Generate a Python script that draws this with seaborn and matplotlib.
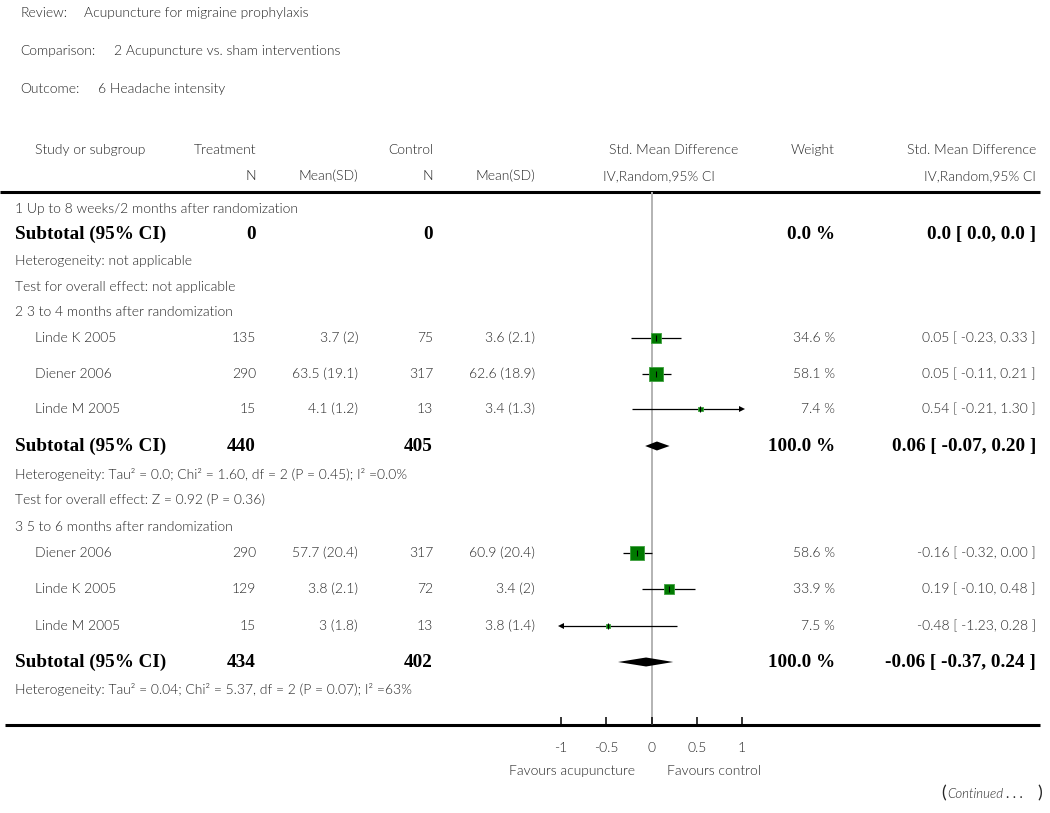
import numpy as np
import pandas as pd
import matplotlib
matplotlib.use("Agg")
import matplotlib.pyplot as plt
import seaborn as sns

# === Data ===
group_titles = ["1 Up to 8 weeks/2 months after randomization",
                "2 3 to 4 months after randomization",
                "3 5 to 6 months after randomization"]

study_names = ["Linde K 2005", "Diener 2006", "Linde M 2005",
               "Diener 2006", "Linde K 2005", "Linde M 2005"]
study_group = [2, 2, 2, 3, 3, 3]
trt_n = [135, 290, 15, 290, 129, 15]
trt_mean_sd = ["3.7 (2)", "63.5 (19.1)", "4.1 (1.2)", "57.7 (20.4)", "3.8 (2.1)", "3 (1.8)"]
ctl_n = [75, 317, 13, 317, 72, 13]
ctl_mean_sd = ["3.6 (2.1)", "62.6 (18.9)", "3.4 (1.3)", "60.9 (20.4)", "3.4 (2)", "3.8 (1.4)"]
weights = [34.6, 58.1, 7.4, 58.6, 33.9, 7.5]
smd = [0.05, 0.05, 0.54, -0.16, 0.19, -0.48]
ci_lo = [-0.23, -0.11, -0.21, -0.32, -0.10, -1.23]
ci_hi = [0.33, 0.21, 1.30, 0.00, 0.48, 0.28]

sub_trt_n = [0, 440, 434]
sub_ctl_n = [0, 405, 402]
sub_weight = [0.0, 100.0, 100.0]
sub_smd = [0.0, 0.06, -0.06]
sub_lo = [0.0, -0.07, -0.37]
sub_hi = [0.0, 0.20, 0.24]
heterogeneity = ["Heterogeneity: not applicable",
                 "Heterogeneity: Tau² = 0.0; Chi² = 1.60, df = 2 (P = 0.45); I² =0.0%",
                 "Heterogeneity: Tau² = 0.04; Chi² = 5.37, df = 2 (P = 0.07); I² =63%"]
overall_test = ["Test for overall effect: not applicable",
                "Test for overall effect: Z = 0.92 (P = 0.36)",
                None]

x_ticks = [-1, -0.5, 0, 0.5, 1]
x_ticklabels = ["-1", "-0.5", "0", "0.5", "1"]

# === Layout (pixel rows) ===
W, H = 1050, 813
group_title_y = [209, 312, 527]
study_y = [338, 374, 409, 553, 589, 626]
sub_y = [234, 446, 662]
het_y = [261, 474, 689]
test_y = [287, 500, None]
top_rule, bottom_rule = 192, 725
px_lo, px_hi = 561, 742

sns.set_style("white")
plt.rcParams['font.family'] = ['Lato', 'DejaVu Sans']
plt.rcParams['axes.unicode_minus'] = False

TXT = '#262626'
FS = 10
BOLD = dict(family='Liberation Serif', fontweight='bold', fontsize=13.8, color='black')
LIGHT = dict(fontsize=FS, color=TXT, fontweight=300)

fig = plt.figure(figsize=(W / 100, H / 100), dpi=100)
bg = fig.add_axes([0, 0, 1, 1])
bg.set_xlim(0, W)
bg.set_ylim(H, 0)
bg.axis('off')

def t(x, y, s, ha='left', **kw):
    style = dict(LIGHT)
    style.update(kw)
    bg.text(x, y, s, ha=ha, va='center', **style)

# header info
t(20, 13, "Review:")
t(84, 13, "Acupuncture for migraine prophylaxis")
t(20, 51, "Comparison:")
t(114, 51, "2 Acupuncture vs. sham interventions")
t(20, 89, "Outcome:")
t(98, 89, "6 Headache intensity")

# column headers
t(35, 150, "Study or subgroup")
t(256, 150, "Treatment", ha='right')
t(433, 150, "Control", ha='right')
t(738, 150, "Std. Mean Difference", ha='right')
t(835, 150, "Weight", ha='right')
t(1036, 150, "Std. Mean Difference", ha='right')
t(256, 176, "N", ha='right')
t(358, 176, "Mean(SD)", ha='right')
t(433, 176, "N", ha='right')
t(535, 176, "Mean(SD)", ha='right')
t(715, 176, "IV,Random,95% CI", ha='right')
t(1036, 176, "IV,Random,95% CI", ha='right')

bg.plot([0, 1040], [top_rule, top_rule], color='black', lw=2.2, solid_capstyle='butt')
bg.plot([5, 1040], [bottom_rule, bottom_rule], color='black', lw=2.2, solid_capstyle='butt')

# group rows
for g in range(3):
    t(15, group_title_y[g], group_titles[g])
    t(15, sub_y[g], "Subtotal (95% CI)", **BOLD)
    t(256, sub_y[g], str(sub_trt_n[g]), ha='right', **BOLD)
    t(433, sub_y[g], str(sub_ctl_n[g]), ha='right', **BOLD)
    t(835, sub_y[g], f"{sub_weight[g]:.1f} %", ha='right', **BOLD)
    if sub_weight[g] == 0:
        eff = f"{sub_smd[g]:.1f} [ {sub_lo[g]:.1f}, {sub_hi[g]:.1f} ]"
    else:
        eff = f"{sub_smd[g]:.2f} [ {sub_lo[g]:.2f}, {sub_hi[g]:.2f} ]"
    t(1036, sub_y[g], eff, ha='right', **BOLD)
    t(15, het_y[g], heterogeneity[g])
    if overall_test[g]:
        t(15, test_y[g], overall_test[g])

for i in range(len(study_names)):
    y = study_y[i]
    t(35, y, study_names[i])
    t(256, y, str(trt_n[i]), ha='right')
    t(358, y, trt_mean_sd[i], ha='right')
    t(433, y, str(ctl_n[i]), ha='right')
    t(535, y, ctl_mean_sd[i], ha='right')
    t(835, y, f"{weights[i]:.1f} %", ha='right')
    t(1036, y, f"{smd[i]:.2f} [ {ci_lo[i]:.2f}, {ci_hi[i]:.2f} ]", ha='right')

# footer
t(572, 771, "Favours acupuncture", ha='center')
t(714, 771, "Favours control", ha='center')
t(941, 793, "(", fontsize=13, fontweight='normal')
t(947, 794, "Continued", style='italic', fontsize=9.5)
t(1006, 794, ". . .", fontsize=10, fontweight='normal')
t(1042, 793, ")", ha='right', fontsize=13, fontweight='normal')

# === Forest axis ===
ax = fig.add_axes([px_lo / W, 1 - bottom_rule / H, (px_hi - px_lo) / W, (bottom_rule - top_rule) / H])
ax.set_xlim(-1, 1)
ax.set_ylim(bottom_rule, top_rule)
ax.patch.set_alpha(0)
for sp in ax.spines.values():
    sp.set_visible(False)
ax.axvline(0, color='#b3b3b3', lw=1.4, zorder=0)

df = pd.DataFrame({"smd": smd, "lo": ci_lo, "hi": ci_hi, "w": weights, "y": study_y})
lo_c = df["lo"].clip(-1, 1)
hi_c = df["hi"].clip(-1, 1)
ax.hlines(df["y"], lo_c, hi_c, color='black', lw=0.9, zorder=2)
for i, r in df.iterrows():
    if r["hi"] > 1:
        ax.plot(1, r["y"], marker='>', color='black', ms=4.5, mew=0, zorder=3, clip_on=False)
    if r["lo"] < -1:
        ax.plot(-1, r["y"], marker='<', color='black', ms=4.5, mew=0, zorder=3, clip_on=False)

sns.scatterplot(data=df, x="smd", y="y", size="w", sizes=(0, 155), size_norm=(0, 100),
                marker='s', color='#007a00', edgecolor='#3fa03f', linewidth=0.6,
                legend=False, ax=ax, zorder=4)
ax.plot(df["smd"], df["y"], linestyle='none', marker='|', color='black', ms=4, mew=0.8, zorder=5)

# subtotal diamonds
for g in range(1, 3):
    y = sub_y[g]
    ax.fill([sub_lo[g], sub_smd[g], sub_hi[g], sub_smd[g]], [y, y - 4.5, y, y + 4.5],
            color='black', lw=0, zorder=4)

ax.set_xticks(x_ticks)
ax.set_xticklabels(x_ticklabels, fontweight=300)
ax.set_yticks([])
ax.tick_params(axis='x', direction='in', length=6, width=1.1, pad=12,
               labelsize=FS, labelcolor=TXT, color='black', bottom=True)
ax.set_xlabel("")
ax.set_ylabel("")

fig.savefig("out.png", dpi=100)
